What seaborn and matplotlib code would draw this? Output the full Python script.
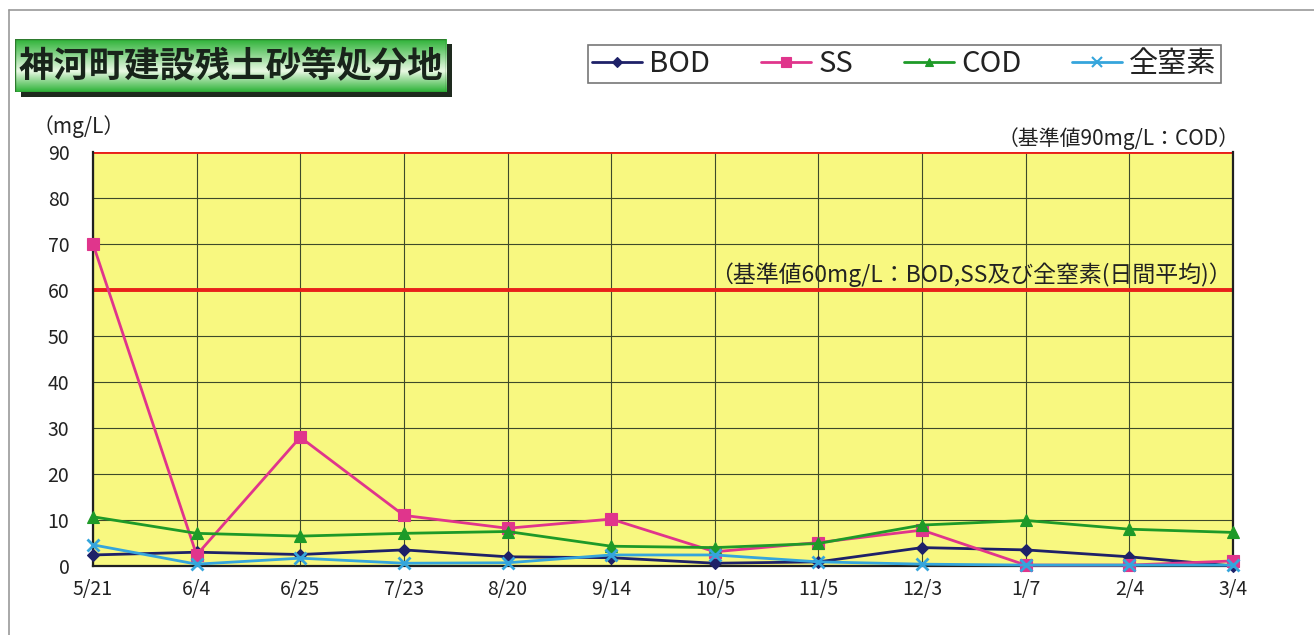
import numpy as np
import pandas as pd
import matplotlib
matplotlib.use("Agg")
import matplotlib.pyplot as plt
from matplotlib.patches import Rectangle
from matplotlib.lines import Line2D
import seaborn as sns

# ---- data ----
dates = ["5/21", "6/4", "6/25", "7/23", "8/20", "9/14", "10/5", "11/5", "12/3", "1/7", "2/4", "3/4"]
bod = [2.4, 3.0, 2.5, 3.5, 2.0, 1.8, 0.6, 0.9, 4.0, 3.5, 2.0, 0.0]
ss = [70.0, 2.4, 28.0, 11.0, 8.2, 10.2, 3.1, 5.1, 7.8, 0.2, 0.2, 1.1]
cod = [10.7, 7.1, 6.5, 7.1, 7.5, 4.3, 4.0, 4.9, 8.9, 9.9, 8.0, 7.3]
tn = [4.6, 0.4, 1.7, 0.6, 0.7, 2.4, 2.4, 0.9, 0.4, 0.2, 0.2, 0.2]
series_names = ["BOD", "SS", "COD", "全窒素"]
yticks = [0, 10, 20, 30, 40, 50, 60, 70, 80, 90]
limits = [60, 90]
title = "神河町建設残土砂等処分地"
note90 = "（基準値90mg/L：COD）"
note60 = "（基準値60mg/L：BOD,SS及び全窒素(日間平均)）"
unit = "（mg/L）"

sns.set_style("white")
plt.rcParams['font.family'] = ['Noto Sans CJK JP', 'DejaVu Sans']

colors = {"BOD": "#1E2168", "SS": "#E0358C", "COD": "#1E9A28", "全窒素": "#35A5DC"}
markers = {"BOD": "D", "SS": "s", "COD": "^", "全窒素": "x"}
msizes = {"BOD": 6, "SS": 9, "COD": 8, "全窒素": 9}

idx = np.arange(len(dates))
df = pd.concat([
    pd.DataFrame({"idx": idx, "value": vals, "series": name})
    for name, vals in zip(series_names, [bod, ss, cod, tn])
])

W, H = 1314, 635
fig = plt.figure(figsize=(W / 100, H / 100), dpi=100)
ax = fig.add_axes([93 / W, 1 - 566 / H, (1233 - 93) / W, (566 - 152) / H])
ax.set_facecolor("#F8F880")

ax.set_xlim(0, len(dates) - 1)
ax.set_ylim(0, 90)
ax.set_yticks(yticks)
ax.set_xticks(idx)
ax.set_xticklabels(dates)
ax.grid(True, color="#3E4A2A", linewidth=0.8)
ax.set_axisbelow(True)

for lv in limits:
    ax.axhline(lv, color="#E8201A", linewidth=2.8, zorder=2)

for name in series_names:
    sub = df[df.series == name]
    sns.lineplot(data=sub, x="idx", y="value", ax=ax, color=colors[name],
                 marker=markers[name], markersize=msizes[name],
                 markeredgecolor=colors[name], markeredgewidth=2 if name == "全窒素" else 0.8,
                 linewidth=2, legend=False, clip_on=False, zorder=4)

ax.set_xlabel("")
ax.set_ylabel("")
for s in ["left", "bottom", "right"]:
    ax.spines[s].set_color("#202020")
    ax.spines[s].set_linewidth(1.6)
ax.spines["top"].set_visible(False)
ax.tick_params(axis="both", length=0, labelsize=14, colors="#222222")
ax.tick_params(axis="x", pad=9)
ax.tick_params(axis="y", pad=17)

ax.text(1.006, 90.4, note90, transform=ax.get_yaxis_transform(), ha="right", va="bottom",
        fontsize=15, color="#222222")
ax.text(0.999, 60.6, note60, transform=ax.get_yaxis_transform(), ha="right", va="bottom",
        fontsize=16.5, color="#222222")
fig.text(33 / W, 1 - 127 / H, unit, ha="left", va="center", fontsize=15, color="#222222")

# outer frame
fig.add_artist(Line2D([9 / W, 9 / W], [0, 1 - 10 / H], color="#999999", lw=1.2))
fig.add_artist(Line2D([9 / W, 1], [1 - 10 / H, 1 - 10 / H], color="#999999", lw=1.2))

# title box with shadow and gradient
shadow = Rectangle((21 / W, 1 - 97 / H), (452 - 21) / W, (97 - 44) / H,
                   transform=fig.transFigure, facecolor="#1E2A1E", edgecolor="none", zorder=-5)
fig.add_artist(shadow)
tax = fig.add_axes([15 / W, 1 - 92 / H, (446 - 15) / W, (92 - 39) / H])
tax.set_zorder(10)
grad = np.concatenate([np.linspace(0, 1, 30), np.linspace(1, 0, 20)])
top_c = np.array([0.18, 0.70, 0.22])
light_c = np.array([0.90, 0.97, 0.88])
img = np.array([top_c + (light_c - top_c) * g for g in grad])[:, None, :]
img = np.repeat(img, 10, axis=1)
tax.imshow(img, aspect="auto", extent=[0, 1, 0, 1])
tax.set_xlim(0, 1)
tax.set_ylim(0, 1)
tax.axis("off")
tax.add_patch(Rectangle((0, 0), 1, 1, fill=False, edgecolor="#2E7A2E", lw=1))
tax.text(0.5, 0.47, title, ha="center", va="center", fontsize=25.5, fontweight="bold",
         color="#18241A")

# legend
handles = [Line2D([], [], color=colors[n], marker=markers[n], markersize=msizes[n] * 0.8,
                  markeredgewidth=1.5 if n == "全窒素" else 0.8, lw=2) for n in series_names]
leg = fig.legend(handles, series_names, loc="center", ncol=4,
                 bbox_to_anchor=((587 + 1222) / 2 / W, 1 - 64 / H),
                 frameon=True, fancybox=False, fontsize=21, handlelength=1.7,
                 columnspacing=1.75, handletextpad=0.25, borderpad=0.15, borderaxespad=0)
leg.get_frame().set_edgecolor("#555555")
leg.get_frame().set_linewidth(1.2)
for t in leg.get_texts():
    t.set_color("#222222")

fig.savefig("out.png", dpi=100, facecolor="white")
